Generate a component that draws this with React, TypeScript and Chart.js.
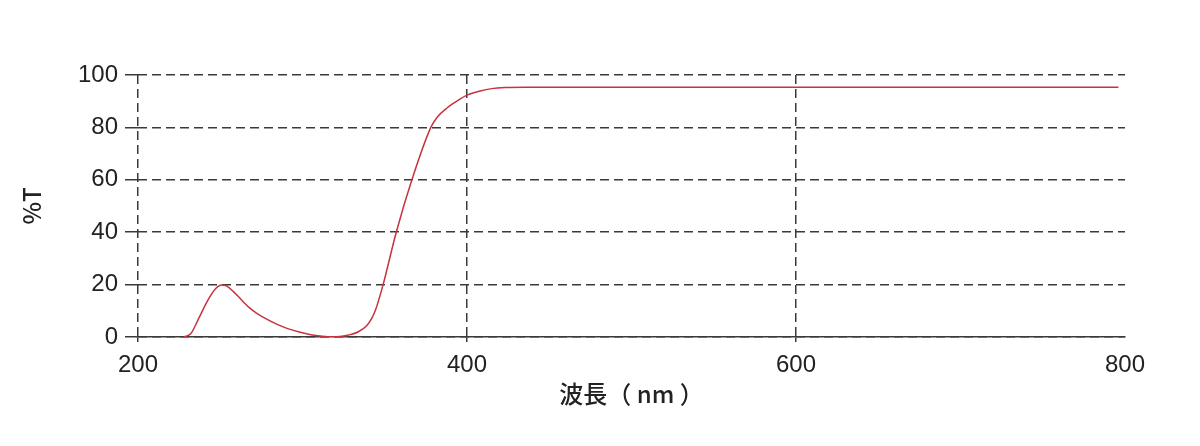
import React, { useEffect, useRef } from "react";
import { Chart, registerables } from "chart.js";

Chart.register(...registerables);

const wavelengths: number[] = [
  228, 232, 237, 242, 247, 251, 254, 258, 262, 265, 268, 272, 276, 284, 291, 298, 305, 312, 318,
  324, 329, 334, 339, 342, 344.5, 349, 357, 366.5, 378, 382, 388,
  395, 400, 408, 415, 423, 435, 500, 600, 700, 796,
];
const transmittance: number[] = [
  0, 1.2, 7.2, 13.5, 18.3, 19.8, 19.4, 17.3, 14.8, 12.8, 11, 9.1, 7.6, 5, 3.2, 1.9, 0.9, 0.3, 0.05,
  0.3, 0.9, 2, 4.3, 7, 10.5, 20, 40, 60, 80, 84, 87.5,
  90.5, 92.3, 93.9, 94.8, 95.2, 95.3, 95.3, 95.3, 95.3, 95.3,
];
const xTicks: number[] = [200, 400, 600, 800];
const yTicks: number[] = [0, 20, 40, 60, 80, 100];
const xTitle = "波長（ nm ）";
const yTitle = "%T";

const GRID = "#3a3a3a";
const LINE = "#c8323f";
const TICK_FONT = { family: "'Liberation Sans', Arial, sans-serif", size: 24 };
const TITLE_FONT = { family: "'Noto Sans CJK JP', 'Liberation Sans', sans-serif", size: 24, weight: "500" as any };

export default function App() {
  const ref = useRef<HTMLCanvasElement | null>(null);
  useEffect(() => {
    if (!ref.current) return;
    const points = wavelengths.map((x, i) => ({ x, y: transmittance[i] }));
    const chart = new Chart(ref.current, {
      type: "line",
      data: {
        datasets: [
          {
            data: points,
            borderColor: LINE,
            borderWidth: 1.5,
            pointRadius: 0,
            fill: false,
            cubicInterpolationMode: "monotone",
          },
        ],
      },
      options: {
        animation: false,
        responsive: false,
        maintainAspectRatio: false,
        layout: { padding: { top: 75, right: 75, left: 0, bottom: 0 } },
        plugins: { legend: { display: false }, tooltip: { enabled: false } },
        scales: {
          x: {
            type: "linear",
            min: 200,
            max: 800,
            afterBuildTicks: (scale: any) => {
              scale.ticks = xTicks.map((v) => ({ value: v }));
            },
            afterFit: (scale: any) => {
              scale.height = 446 - 337;
            },
            ticks: { color: "#222", font: TICK_FONT, padding: 9, maxRotation: 0 },
            grid: {
              color: (ctx: any) => (ctx.tick && ctx.tick.value === 800 ? "rgba(0,0,0,0)" : GRID),
              tickColor: (ctx: any) => (ctx.tick && ctx.tick.value === 800 ? "rgba(0,0,0,0)" : GRID),
              lineWidth: 1.5,
              tickLength: 5,
              tickWidth: 1.5,
            },
            border: { display: true, color: GRID, width: 1.5, dash: [9, 5] },
            title: {
              display: true,
              text: xTitle,
              color: "#222",
              font: TITLE_FONT,
              padding: { top: 0, bottom: 38 },
            },
          },
          y: {
            type: "linear",
            min: 0,
            max: 100,
            afterBuildTicks: (scale: any) => {
              scale.ticks = yTicks.map((v) => ({ value: v }));
            },
            afterFit: (scale: any) => {
              scale.width = 138;
            },
            ticks: { color: "#222", font: TICK_FONT, padding: 7 },
            grid: {
              color: GRID,
              tickColor: GRID,
              lineWidth: 1.5,
              tickLength: 13,
              tickWidth: 1.5,
            },
            border: { display: false, dash: [9, 5] },
            title: {
              display: true,
              text: yTitle,
              color: "#222",
              font: TITLE_FONT,
              padding: { top: 17, bottom: 0 },
            },
          },
        },
      },
    });
    return () => chart.destroy();
  }, []);
  return (
    <div style={{ position: "fixed", left: 0, top: 0, width: 1200, height: 446, background: "#fff" }}>
      <canvas ref={ref} width={1200} height={446} style={{ width: 1200, height: 446 }} />
    </div>
  );
}
